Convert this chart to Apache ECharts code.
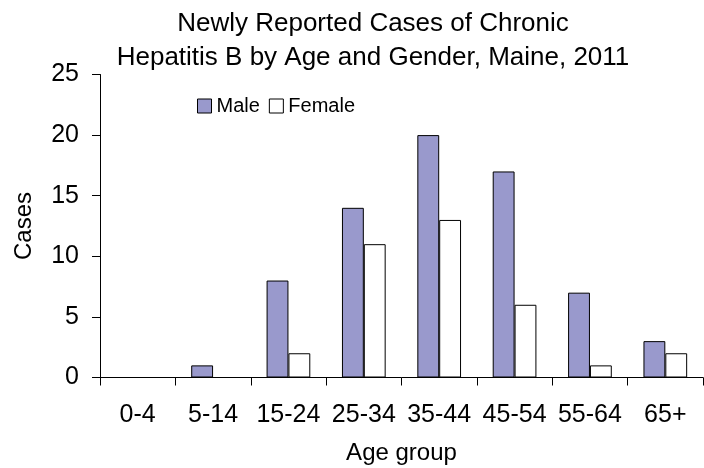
<!DOCTYPE html>
<html>
<head>
<meta charset="utf-8">
<script src="https://cdn.jsdelivr.net/npm/echarts@6/dist/echarts.min.js"></script>
<style>html,body{margin:0;padding:0;background:#fff}#c{width:704px;height:468px}</style>
</head>
<body>
<div id="c"></div>
<script>
const categories = ['0-4', '5-14', '15-24', '25-34', '35-44', '45-54', '55-64', '65+'];
const maleCases = [0, 1, 8, 14, 20, 17, 7, 3];
const femaleCases = [0, 0, 2, 11, 13, 6, 1, 2];
const seriesNames = ['Male', 'Female'];
const titleText = 'Newly Reported Cases of Chronic\nHepatitis B by Age and Gender, Maine, 2011';

const FONT = 'Arial, "Liberation Sans", sans-serif';
const chart = echarts.init(document.getElementById('c'), null, { renderer: 'canvas' });
chart.setOption({
  backgroundColor: '#ffffff',
  animation: false,
  title: {
    text: titleText,
    left: 373,
    top: 7,
    padding: 0,
    textAlign: 'center',
    textStyle: { fontFamily: FONT, fontSize: 26, fontWeight: 'normal', color: '#000', lineHeight: 34 }
  },
  legend: {
    left: 197,
    top: 96,
    padding: 0,
    itemWidth: 14,
    itemHeight: 14,
    itemGap: 9,
    icon: 'rect',
    textStyle: { fontFamily: FONT, fontSize: 20, color: '#000', padding: [0, 0, 0, 0] },
    data: [
      { name: seriesNames[0], itemStyle: { color: '#9999CC', borderColor: '#000', borderWidth: 1 } },
      { name: seriesNames[1], itemStyle: { color: '#ffffff', borderColor: '#000', borderWidth: 1 } }
    ]
  },
  grid: { left: 100, right: 1, top: 74.5, bottom: 90.5, outerBoundsMode: 'none', containLabel: false },
  xAxis: {
    type: 'category',
    data: categories,
    boundaryGap: true,
    name: 'Age group',
    nameLocation: 'middle',
    nameGap: 64,
    nameTextStyle: { fontFamily: FONT, fontSize: 24, color: '#000' },
    axisLine: { lineStyle: { color: '#000', width: 1 } },
    axisTick: { show: true, length: 8, alignWithLabel: false, lineStyle: { color: '#000' } },
    axisLabel: { fontFamily: FONT, fontSize: 25, color: '#000', margin: 25, interval: 0 },
    splitLine: { show: false }
  },
  yAxis: {
    type: 'value',
    min: 0,
    max: 25,
    interval: 5,
    name: 'Cases',
    nameLocation: 'middle',
    nameGap: 64,
    nameTextStyle: { fontFamily: FONT, fontSize: 24, color: '#000' },
    axisLine: { show: true, lineStyle: { color: '#000', width: 1 } },
    axisTick: { show: true, length: 8, lineStyle: { color: '#000' } },
    axisLabel: { fontFamily: FONT, fontSize: 25, color: '#000', margin: 21 },
    splitLine: { show: false }
  },
  series: [
    {
      name: seriesNames[0],
      type: 'bar',
      data: maleCases,
      barGap: '0%',
      barCategoryGap: '42%',
      itemStyle: { color: '#9999CC', borderColor: '#000', borderWidth: 1 }
    },
    {
      name: seriesNames[1],
      type: 'bar',
      data: femaleCases,
      barGap: '0%',
      barCategoryGap: '42%',
      itemStyle: { color: '#ffffff', borderColor: '#000', borderWidth: 1 }
    }
  ]
});
</script>
</body>
</html>
